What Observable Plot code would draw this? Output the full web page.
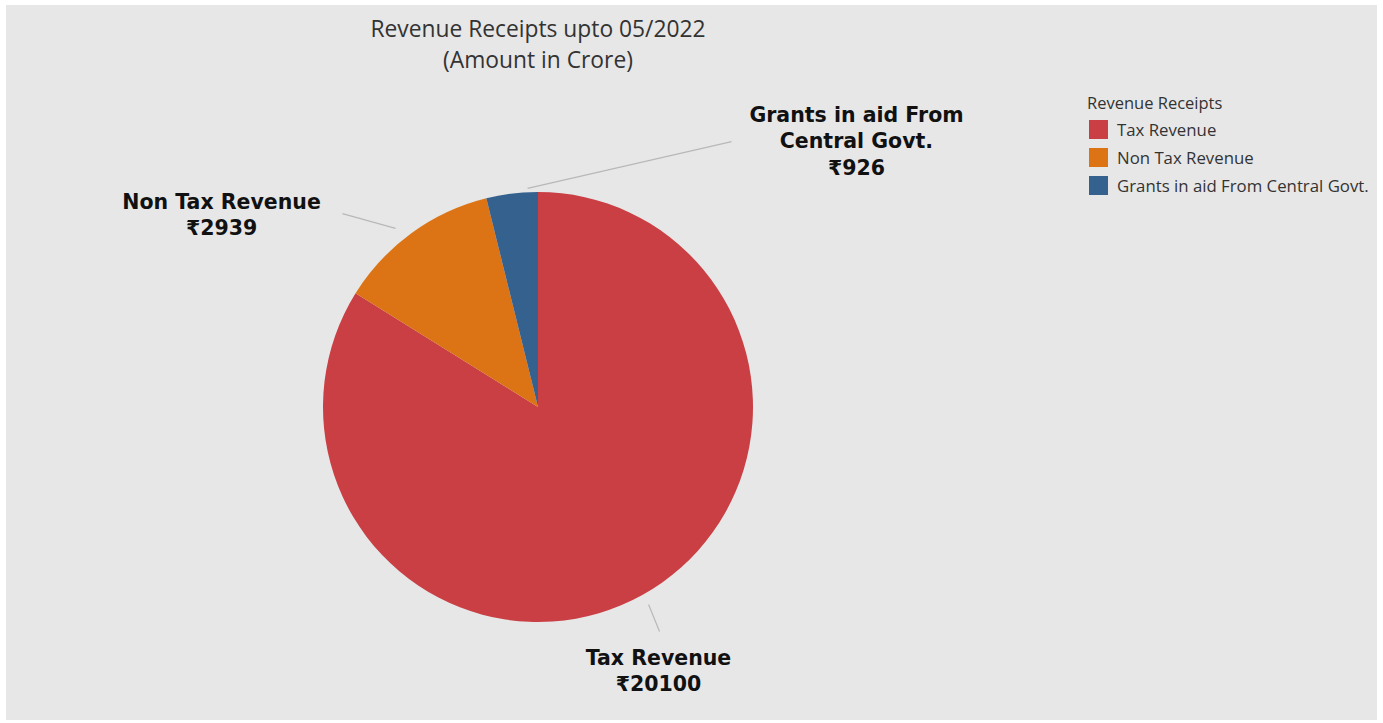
<!DOCTYPE html>
<html>
<head>
<meta charset="utf-8">
<script src="https://cdn.jsdelivr.net/npm/d3@7"></script>
<script src="https://cdn.jsdelivr.net/npm/@observablehq/plot@0.6"></script>
<style>
  html, body { margin: 0; padding: 0; background: #ffffff; }
  #wrap { position: relative; width: 1383px; height: 723px; overflow: hidden; }
  #panel { position: absolute; left: 6px; top: 5px; width: 1371px; height: 715px; background: #e7e7e7; }
  #chart { position: absolute; left: 0; top: 0; }
  #chart svg { background: transparent !important; }
  #title { position: absolute; left: 238px; width: 600px; top: 13px; text-align: center;
           font-family: "Open Sans", sans-serif; font-size: 22.8px; line-height: 31px; color: #333; }
  #legend { position: absolute; left: 1087px; top: 91px; font-family: "Open Sans", sans-serif; color: #333; }
  #legend .lt { font-size: 16.5px; line-height: 24px; margin-bottom: 0px; }
  #legend .row { display: flex; align-items: center; height: 28px; font-size: 16.8px; }
  #legend .sw { width: 19px; height: 19px; margin-left: 2px; margin-right: 9px; }
</style>
</head>
<body>
<div id="wrap">
  <div id="panel"></div>
  <div id="chart"></div>
  <div id="title"></div>
  <div id="legend"></div>
</div>
<script>
// ---- data ----
const categories = ["Tax Revenue", "Non Tax Revenue", "Grants in aid From Central Govt."];
const amounts = [20100, 2939, 926];
const labelTexts = ["Tax Revenue", "Non Tax Revenue", "Grants in aid From\nCentral Govt."];
const colors = ["#c93f44", "#dc7416", "#35618e"];
const titleLines = ["Revenue Receipts upto 05/2022", "(Amount in Crore)"];
const legendTitle = "Revenue Receipts";
const currency = "\u20B9";

// ---- layout (unit coordinates, pie radius = 1) ----
const labelLayout = [
  {tx: 0.558, ty: -1.218, sx: 0.512, sy: -0.916, ex: 0.563, ey: -1.042},
  {tx: -1.474, ty: 0.903, sx: -0.665, sy: 0.833, ex: -0.912, ey: 0.902},
  {tx: 1.479, ty: 1.245, sx: -0.051, sy: 1.019, ex: 0.898, ey: 1.237}
];

const rows = categories.map((name, i) => ({name, value: amounts[i], label: labelTexts[i], ...labelLayout[i]}));
const arcs = d3.pie().sort(null).value(d => d.value)(rows);

function pieMark(index, scales) {
  const cx = scales.x(0), cy = scales.y(0);
  const r = Math.abs(scales.x(1) - scales.x(0));
  const arc = d3.arc().innerRadius(0).outerRadius(r);
  const g = d3.create("svg:g").attr("transform", `translate(${cx},${cy})`);
  g.selectAll("path").data(arcs).join("path")
    .attr("d", arc)
    .attr("fill", d => scales.color(d.data.name));
  return g.node();
}

const plot = Plot.plot({
  width: 1383,
  height: 723,
  margin: 0,
  style: {background: "transparent", overflow: "visible"},
  x: {domain: [-1, 1], range: [323, 753], axis: null},
  y: {domain: [-1, 1], range: [622, 192], axis: null},
  color: {domain: categories, range: colors},
  marks: [
    Plot.dot(rows, {x: () => 0, y: () => 0, fill: "name", r: 1, fillOpacity: 0}),
    pieMark,
    Plot.link(rows, {x1: "sx", y1: "sy", x2: "ex", y2: "ey", stroke: "#b8b8b8", strokeWidth: 1.2}),
    Plot.text(rows, {
      x: "tx", y: "ty",
      text: d => `${d.label}\n${currency}${d.value}`,
      fontFamily: "DejaVu Sans", fontWeight: "bold", fontSize: 20.5,
      lineHeight: 1.3, fill: "#111", textAnchor: "middle"
    })
  ]
});
document.getElementById("chart").appendChild(plot);

document.getElementById("title").innerHTML = titleLines.map(t => `<div>${t}</div>`).join("");
const color = plot.scale("color");
const leg = document.getElementById("legend");
leg.innerHTML = `<div class="lt">${legendTitle}</div>` +
  color.domain.map((c, i) => `<div class="row"><div class="sw" style="background:${color.range[i]}"></div><span>${c}</span></div>`).join("");
</script>
</body>
</html>
